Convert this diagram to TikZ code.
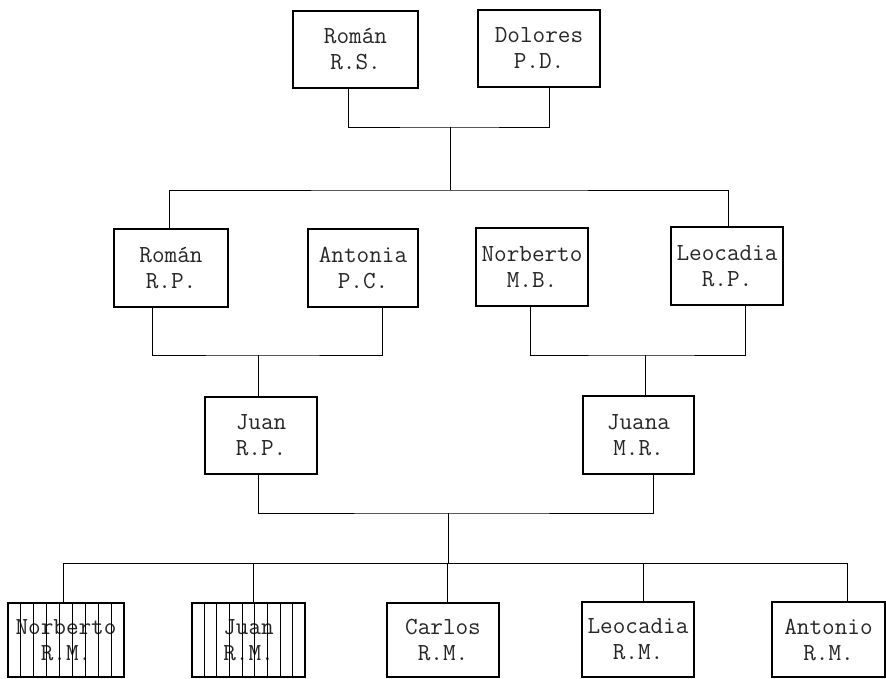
\documentclass[tikz,border=0pt]{standalone}
\usetikzlibrary{calc}
\begin{document}
\begin{tikzpicture}[x=1pt,y=-1pt,
  box/.style={draw, line width=1.1pt, inner sep=0pt, align=center,
    font=\ttfamily\fontsize{24.5}{26}\selectfont, text=black!85},
  link/.style={line width=1pt},
  hatch/.style={line width=1.1pt}]
\useasboundingbox (0,0) rectangle (886,678);
% generation 1
\node[box, minimum width=125, minimum height=77] (A) at (355.5,49.5) {Román\\R.S.};
\node[box, minimum width=122, minimum height=77] (B) at (539,48.5) {Dolores\\P.D.};
% generation 2
\node[box, minimum width=114, minimum height=78] (C) at (171,268) {Román\\R.P.};
\node[box, minimum width=110, minimum height=78] (D) at (363,268) {Antonia\\P.C.};
\node[box, minimum width=112, minimum height=78] (E) at (532,267) {Norberto\\M.B.};
\node[box, minimum width=112, minimum height=78] (F) at (727,266) {Leocadia\\R.P.};
% generation 3
\node[box, minimum width=112, minimum height=77] (G) at (261,435.5) {Juan\\R.P.};
\node[box, minimum width=111, minimum height=78] (H) at (638.5,435) {Juana\\M.R.};
% generation 4
\node[box, minimum width=116, minimum height=74] (I) at (66,640) {Norberto\\R.M.};
\node[box, minimum width=113, minimum height=74] (J) at (248.5,640) {Juan\\R.M.};
\node[box, minimum width=112, minimum height=74] (K) at (443,640) {Carlos\\R.M.};
\node[box, minimum width=112, minimum height=75] (L) at (638,639.5) {Leocadia\\R.M.};
\node[box, minimum width=113, minimum height=75] (M) at (828.5,639.5) {Antonio\\R.M.};
% hatching
\foreach \i in {1,...,8} {
  \draw[hatch] ($(I.north west)!\i/9!(I.north east)$) -- ($(I.south west)!\i/9!(I.south east)$);
  \draw[hatch] ($(J.north west)!\i/9!(J.north east)$) -- ($(J.south west)!\i/9!(J.south east)$);
}
% junctions
\coordinate (j1) at (450,127);
\coordinate (j2) at (450,190);
\coordinate (j3) at (258,355);
\coordinate (j4) at (645,355);
\coordinate (j5) at (448,513);
\coordinate (j6) at (448,563);
% connectors
\draw[link] ([xshift=-7.5pt]A.south) |- (j1) -| ([xshift=10pt]B.south);
\draw[link] (j1) -- (j2);
\draw[link] ([xshift=-2pt]C.north) |- (j2) -| ([xshift=1pt]F.north);
\draw[link] ([xshift=-19pt]C.south) |- (j3) -| ([xshift=19pt]D.south);
\draw[link] (j3) -- ([xshift=-3pt]G.north);
\draw[link] ([xshift=-2pt]E.south) |- (j4) -| ([xshift=18pt]F.south);
\draw[link] (j4) -- ([xshift=6.5pt]H.north);
\draw[link] ([xshift=-3pt]G.south) |- (j5) -| ([xshift=14.5pt]H.south);
\draw[link] (j5) -- (j6);
\draw[link] ([xshift=-3pt]I.north) |- (j6) -| ([xshift=18.5pt]M.north);
\draw[link] ([xshift=4.5pt]J.north) -- ([xshift=4.5pt]J.north |- j6);
\draw[link] ([xshift=4pt]K.north) -- ([xshift=4pt]K.north |- j6);
\draw[link] ([xshift=5pt]L.north) -- ([xshift=5pt]L.north |- j6);
\end{tikzpicture}
\end{document}
